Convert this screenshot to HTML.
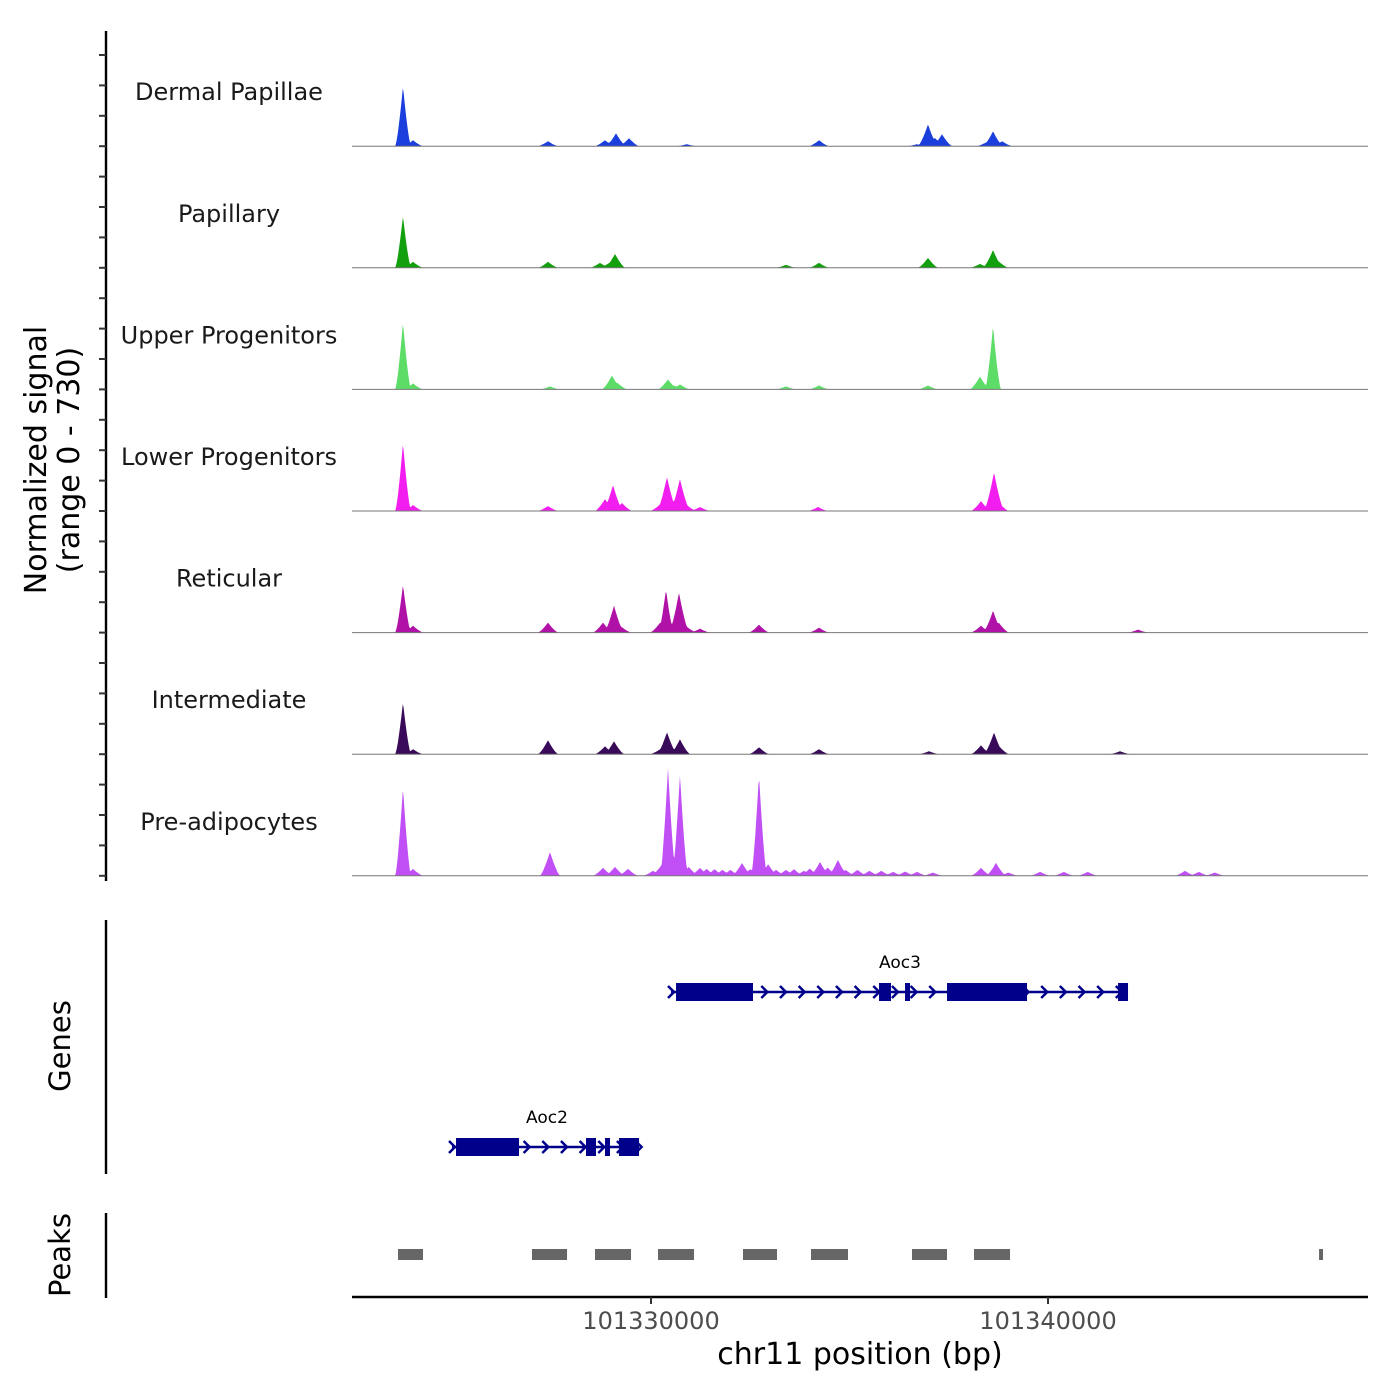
<!DOCTYPE html>
<html><head><meta charset="utf-8"><style>
body{margin:0;background:#fff}
svg{display:block;font-family:"DejaVu Sans","Liberation Sans",sans-serif}
</style></head><body>
<svg id="chart" width="1400" height="1400" viewBox="0 0 1400 1400">
<g id="layer"></g>
</svg>
<script>
const trackNames=["Dermal Papillae","Papillary","Upper Progenitors","Lower Progenitors","Reticular","Intermediate","Pre-adipocytes"];
const trackColors=["#1a3fdc","#13a00e","#5ddc68","#f21ef0","#b012a8","#3a0a5a","#c050f6"];
const peakPos0=[101323753,101324005,101327405,101328841,101329118,101329446,101334232,101336977,101337330,101338615,101338842,101329000,101337150,101338450,101330900,101336700];
const peakVal0=[360,36,30,36,78,48,36,132,72,90,30,30,50,24,12,12];
const peakPos1=[101323753,101324005,101327405,101328715,101329093,101333400,101334232,101336977,101338287,101338615,101328950,101338750];
const peakVal1=[312,36,36,30,84,18,30,60,24,108,30,40];
const peakPos2=[101323753,101324005,101327455,101329017,101330428,101330730,101333400,101334232,101336977,101338287,101338615,101329150,101330580];
const peakVal2=[402,36,18,84,60,30,18,24,24,78,384,40,24];
const peakPos3=[101323753,101324005,101327405,101328841,101329043,101329269,101330403,101330730,101331234,101334207,101338312,101338640,101330230,101330560,101330900,101338760];
const peakVal3=[408,36,30,72,156,48,204,192,24,24,60,234,40,60,36,50];
const peakPos4=[101323753,101324005,101327405,101328791,101329068,101330378,101330705,101331234,101332720,101334232,101338312,101338615,101342267,101330230,101330560,101330900,101338760,101329250];
const peakVal4=[288,42,60,60,162,258,240,24,48,30,42,132,18,60,60,36,60,36];
const peakPos5=[101323753,101324005,101327405,101328841,101329068,101330403,101330730,101332720,101334232,101337003,101338312,101338640,101341814,101330230,101338760];
const peakVal5=[312,30,84,48,78,132,90,42,30,18,54,132,18,30,50];
const peakPos6=[101323753,101324005,101327455,101328791,101329093,101329420,101330428,101330730,101332292,101332720,101333149,101334257,101334710,101338312,101338690,101339799,101343451,101331234,101331600,101332000,101333600,101334000,101335200,101335800,101336400,101341000,101344200,101330050,101330250,101330950,101331400,101331800,101332500,101332950,101333400,101333850,101334450,101334900,101335500,101336100,101336700,101337100,101339000,101340400,101343800];
const peakVal6=[528,42,144,48,54,42,648,606,78,606,36,84,96,48,78,24,30,48,40,36,40,44,36,30,26,24,20,30,60,54,42,36,40,70,36,30,50,36,30,24,24,20,20,24,24];
const trackPos=[peakPos0,peakPos1,peakPos2,peakPos3,peakPos4,peakPos5,peakPos6];
const trackVal=[peakVal0,peakVal1,peakVal2,peakVal3,peakVal4,peakVal5,peakVal6];
const genes=["Aoc3","Aoc2"];
const geneStart=[101330504,101324987];
const geneEnd=[101342015,101329698];
const geneExonStart=[[101330630,101335743,101336398,101337456,101341764],[101325088,101328362,101328841,101329194]];
const geneExonEnd=[[101332569,101336045,101336524,101339471,101342015],[101326675,101328614,101328967,101329698]];
const peakStart=[101323627,101327002,101328589,101330176,101332317,101334030,101336574,101338136,101346827];
const peakEnd=[101324256,101327884,101329496,101331083,101333174,101334962,101337456,101339043,101346927];
const xTicks=[101330000,101340000];
const xTickLabels=["101330000","101340000"];
const yMax=730;

const NS="http://www.w3.org/2000/svg";
const L=document.getElementById('layer');
function mk(t,a,txt){const e=document.createElementNS(NS,t);for(const k in a)e.setAttribute(k,a[k]);if(txt!==undefined)e.textContent=txt;L.appendChild(e);return e;}
const X0=101322468,K=0.0397;
const xS=bp=>352+(bp-X0)*K;
const trackH=121.6,base0=146.2;
const yS=(i,v)=>base0+i*trackH-v/yMax*trackH;

let e=mk('line',{x1:106,y1:31,x2:106,y2:881,stroke:'#000','stroke-width':2.4});

for(let t=0;t<=28;t++){const y=base0-trackH+t*trackH/4;if(y<50)continue;
 e=mk('line',{x1:99,y1:y,x2:106,y2:y,stroke:'#333','stroke-width':2});
 }
e=mk('text',{x:0,y:0,'font-size':30,'text-anchor':'middle',fill:'#000',transform:'translate(52,460) rotate(-90)'});

const t1=document.createElementNS(NS,'tspan');t1.setAttribute('x',0);t1.setAttribute('dy','-0.2em');t1.textContent='Normalized signal';e.appendChild(t1);
const t2=document.createElementNS(NS,'tspan');t2.setAttribute('x',0);t2.setAttribute('dy','1.1em');t2.textContent='(range 0 - 730)';e.appendChild(t2);

for(let i=0;i<7;i++){
 const P=trackPos[i],V=trackVal[i];
 let d='M352,'+yS(i,0);
 for(let bp=X0;bp<=X0+25600;bp+=20){
  let v=0;for(let j=0;j<P.length;j++){const w=V[j]>250?200:260;const r=1-Math.abs(bp-P[j])/w;if(r>0)v=Math.max(v,V[j]*Math.pow(r,1.4));}
  d+='L'+xS(bp).toFixed(1)+','+yS(i,v).toFixed(1);
 }
 d+='L1368,'+yS(i,0)+'Z';
 e=mk('path',{d:d,fill:trackColors[i]});
 
 e=mk('line',{x1:352,x2:1368,y1:yS(i,0),y2:yS(i,0),stroke:'#777','stroke-width':1});
 
 e=mk('text',{x:229,y:yS(i,0)-46,'font-size':24,'text-anchor':'middle',fill:'#1a1a1a'},trackNames[i]);
 
}

e=mk('line',{x1:106,y1:920,x2:106,y2:1174,stroke:'#000','stroke-width':2.4});

e=mk('text',{x:0,y:0,'font-size':29,'text-anchor':'middle',transform:'translate(70,1046) rotate(-90)'},'Genes');

const gy=[992,1147];
for(let g=0;g<genes.length;g++){
 const y=gy[g],s=xS(geneStart[g]),en=xS(geneEnd[g]);
 e=mk('line',{x1:s,x2:en,y1:y,y2:y,stroke:'#00008b','stroke-width':2.5});
 
 for(let bp=geneStart[g];bp<geneEnd[g];bp+=470){const x=xS(bp);
  e=mk('path',{d:`M${x-3},${y-6}L${x+3},${y}L${x-3},${y+6}`,stroke:'#00008b','stroke-width':2.5,fill:'none'});
  }
 for(let k=0;k<geneExonStart[g].length;k++){const a=xS(geneExonStart[g][k]),b=xS(geneExonEnd[g][k]);
  e=mk('rect',{x:a,y:y-9,width:b-a,height:18,fill:'#00008b'});
  }
 e=mk('text',{x:g==0?900:547,y:y-24,'font-size':17,'text-anchor':'middle'},genes[g]);
 
}

e=mk('line',{x1:106,y1:1213,x2:106,y2:1298,stroke:'#000','stroke-width':2.4});

e=mk('text',{x:0,y:0,'font-size':29,'text-anchor':'middle',transform:'translate(70,1255) rotate(-90)'},'Peaks');

for(let k=0;k<peakStart.length;k++){const a=xS(peakStart[k]),b=xS(peakEnd[k]);
 e=mk('rect',{x:a,y:1249,width:b-a,height:11,fill:'#666'});
 }

e=mk('line',{x1:352,x2:1368,y1:1297,y2:1297,stroke:'#000','stroke-width':2.4});

for(let k=0;k<xTicks.length;k++){const x=xS(xTicks[k]);
 e=mk('line',{x1:x,x2:x,y1:1297,y2:1304,stroke:'#333','stroke-width':2});
 
 e=mk('text',{x:x,y:1329,'font-size':24,'text-anchor':'middle',fill:'#4d4d4d'},xTickLabels[k]);
 }
e=mk('text',{x:860,y:1364,'font-size':30,'text-anchor':'middle'},'chr11 position (bp)');

</script>
</body></html>
